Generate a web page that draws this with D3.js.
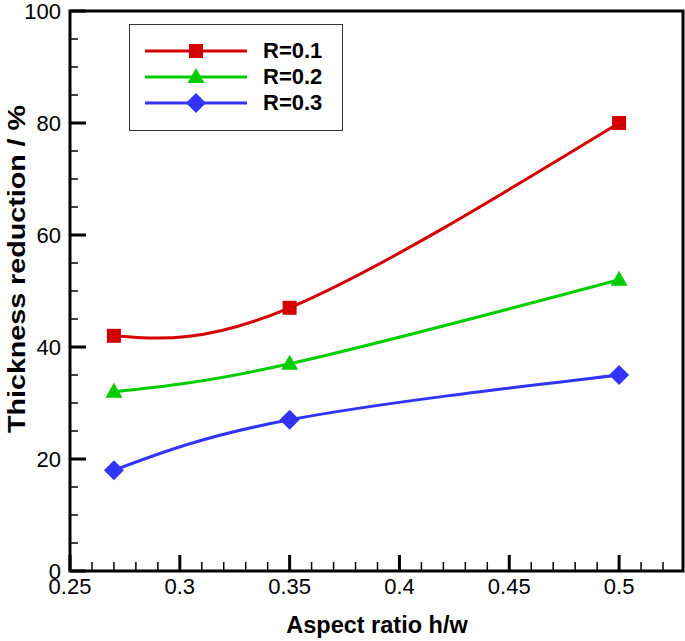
<!DOCTYPE html>
<html><head><meta charset="utf-8">
<script src="https://cdn.jsdelivr.net/npm/d3@7"></script>
<style>body{margin:0;background:#fff}svg{display:block}text{font-family:"Liberation Sans",Arial,sans-serif}</style>
</head><body><svg id="c" width="685" height="641"></svg>
<script>
const xValues = [0.27, 0.35, 0.5];
const seriesNames = ["R=0.1", "R=0.2", "R=0.3"];
const r01 = [42, 47, 80];
const r02 = [32, 37, 52];
const r03 = [18, 27, 35];
const xTicks = [0.25, 0.3, 0.35, 0.4, 0.45, 0.5];
const yTicks = [0, 20, 40, 60, 80, 100];

const series = [
  {name: seriesNames[0], values: r01, color: "#d40000", shape: "square"},
  {name: seriesNames[1], values: r02, color: "#00cc00", shape: "triangle"},
  {name: seriesNames[2], values: r03, color: "#3333ff", shape: "diamond"}
];

const svg = d3.select("#c");
const L = 70, R = 683, T = 11, B = 571;
const x = d3.scaleLinear().domain([0.25, 0.5291]).range([L, R]);
const y = d3.scaleLinear().domain([0, 100]).range([B, T]);

// minor ticks
const xMinor = d3.range(0.25, 0.529, 0.01).map(v => +v.toFixed(2));
const yMinor = d3.range(0, 100.1, 5);
const isMajorX = d => xTicks.some(t => Math.abs(t - d) < 1e-6);
const g = svg.append("g");
g.selectAll(".xm").data(xMinor).enter().append("line")
  .attr("x1", d => x(d)).attr("x2", d => x(d))
  .attr("y1", B).attr("y2", d => B - (isMajorX(d) ? 16 : 9))
  .attr("stroke", "#000").attr("stroke-width", d => isMajorX(d) ? 3 : 1.5);
g.selectAll(".ym").data(yMinor).enter().append("line")
  .attr("y1", d => y(d)).attr("y2", d => y(d))
  .attr("x1", L).attr("x2", d => L + (d % 20 === 0 ? 16 : 8))
  .attr("stroke", "#000").attr("stroke-width", d => d % 20 === 0 ? 3 : 1.5);

// frame
svg.append("rect").attr("x", L).attr("y", T).attr("width", R - L).attr("height", B - T)
  .attr("fill", "none").attr("stroke", "#000").attr("stroke-width", 3);

// tick labels
svg.selectAll(".xl").data(xTicks).enter().append("text")
  .attr("x", d => x(d)).attr("y", 594).attr("text-anchor", "middle")
  .attr("font-size", 22).text(d => d3.format("")(d));
svg.selectAll(".yl").data(yTicks).enter().append("text")
  .attr("x", 61).attr("y", d => y(d) + 8).attr("text-anchor", "end")
  .attr("font-size", 22).text(d => d);

// axis titles
svg.append("text").attr("x", 377).attr("y", 633).attr("text-anchor", "middle")
  .attr("font-size", 23.5).attr("font-weight", "bold").text("Aspect ratio h/w");
svg.append("text").attr("transform", "translate(25,269) rotate(-90)").attr("text-anchor", "middle")
  .attr("font-size", 24).attr("font-weight", "bold")
  .attr("textLength", 328).attr("lengthAdjust", "spacingAndGlyphs")
  .text("Thickness reduction / %");

function marker(sel, shape, color) {
  if (shape === "square") sel.append("rect").attr("x", -7).attr("y", -7).attr("width", 14).attr("height", 14).attr("fill", color);
  else if (shape === "triangle") sel.append("path").attr("d", "M0,-9L8.5,6L-8.5,6Z").attr("fill", color);
  else sel.append("path").attr("d", "M0,-10L10,0L0,10L-10,0Z").attr("fill", color);
}

const line = d3.line().x(d => x(d[0])).y(d => y(d[1])).curve(d3.curveNatural);
series.forEach(s => {
  const pts = xValues.map((v, i) => [v, s.values[i]]);
  svg.append("path").attr("d", line(pts)).attr("fill", "none")
    .attr("stroke", s.color).attr("stroke-width", 3);
  pts.forEach(p => {
    const m = svg.append("g").attr("transform", `translate(${x(p[0])},${y(p[1])})`);
    marker(m, s.shape, s.color);
  });
});

// legend
const lg = svg.append("g");
lg.append("rect").attr("x", 129.5).attr("y", 24.5).attr("width", 213).attr("height", 106)
  .attr("fill", "#fff").attr("stroke", "#333").attr("stroke-width", 1);
series.forEach((s, i) => {
  const yy = 51 + i * 26;
  lg.append("line").attr("x1", 145).attr("x2", 247).attr("y1", yy).attr("y2", yy)
    .attr("stroke", s.color).attr("stroke-width", 3);
  const m = lg.append("g").attr("transform", `translate(196,${yy})`);
  marker(m, s.shape, s.color);
  lg.append("text").attr("x", 263).attr("y", yy + 7).attr("font-size", 22)
    .attr("font-weight", "bold").text(s.name);
});
</script></body></html>
